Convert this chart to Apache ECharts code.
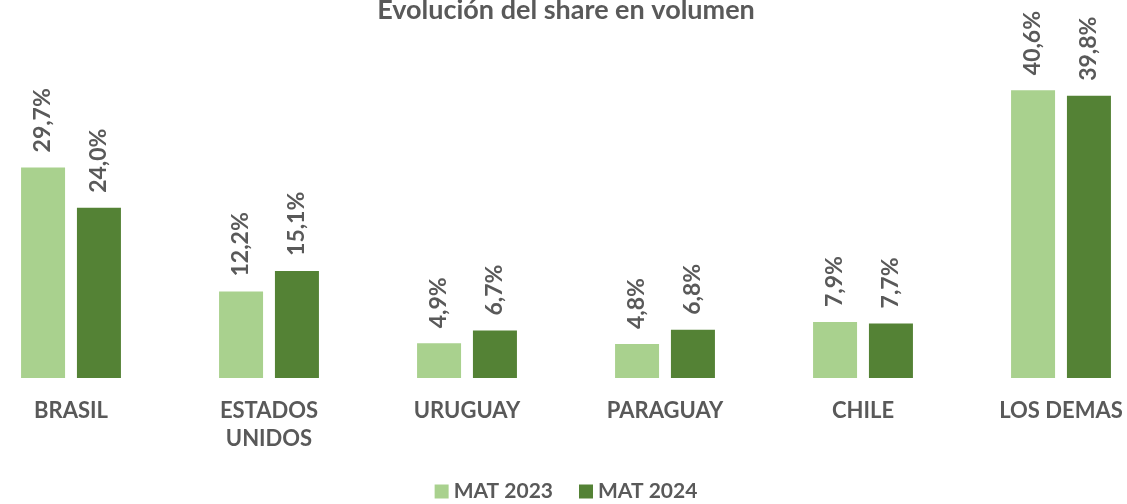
<!DOCTYPE html>
<html>
<head>
<meta charset="utf-8">
<script src="https://cdn.jsdelivr.net/npm/echarts@6/dist/echarts.min.js"></script>
<style>
  html, body { margin: 0; padding: 0; background: #fff; overflow: hidden; }
  /* the plot runs past both page edges, so the canvas is wider and shifted left */
  #chart { width: 1188px; height: 504px; margin-left: -28px; }
</style>
</head>
<body>
<div id="chart"></div>
<script>
const categories = ['BRASIL', 'ESTADOS\nUNIDOS', 'URUGUAY', 'PARAGUAY', 'CHILE', 'LOS DEMAS']
const mat2023 = [29.7, 12.2, 4.9, 4.8, 7.9, 40.6]
const mat2024 = [24.0, 15.1, 6.7, 6.8, 7.7, 39.8]

const textColor = '#595959'
const font = 'Lato, "Open Sans", sans-serif'

const fmt = (p) => p.value.toFixed(1).replace('.', ',') + '%'

const labelStyle = {
  show: true,
  position: 'top',
  rotate: 90,
  align: 'left',
  verticalAlign: 'middle',
  distance: 15,
  formatter: fmt,
  color: textColor,
  fontFamily: font,
  fontWeight: 'bold',
  fontSize: 23,
}

const chart = echarts.init(document.getElementById('chart'))
chart.setOption({
  animation: false,
  title: {
    text: 'Evolución del share en volumen',
    left: 'center',
    top: -8,
    textStyle: { color: textColor, fontFamily: font, fontWeight: 'bold', fontSize: 27 },
  },
  legend: {
    bottom: -3,
    left: 'center',
    itemWidth: 14,
    itemHeight: 14,
    itemGap: 26,
    icon: 'rect',
    textStyle: { color: textColor, fontFamily: font, fontWeight: 'bold', fontSize: 21 },
  },
  grid: { left: 0, right: 0, top: 59, bottom: 126, containLabel: false },
  xAxis: {
    type: 'category',
    data: categories,
    axisLine: { show: false },
    axisTick: { show: false },
    axisLabel: {
      color: textColor,
      fontFamily: font,
      fontWeight: 'bold',
      fontSize: 22,
      margin: 19,
      lineHeight: 28,
      interval: 0,
    },
  },
  yAxis: { type: 'value', min: 0, max: 45, show: false, splitLine: { show: false } },
  series: [
    {
      name: 'MAT 2023',
      type: 'bar',
      data: mat2023,
      barWidth: 44,
      barGap: '27%',
      itemStyle: { color: '#A9D18E' },
      label: labelStyle,
    },
    {
      name: 'MAT 2024',
      type: 'bar',
      data: mat2024,
      barWidth: 44,
      itemStyle: { color: '#548235' },
      label: labelStyle,
    },
  ],
})
</script>
</body>
</html>
